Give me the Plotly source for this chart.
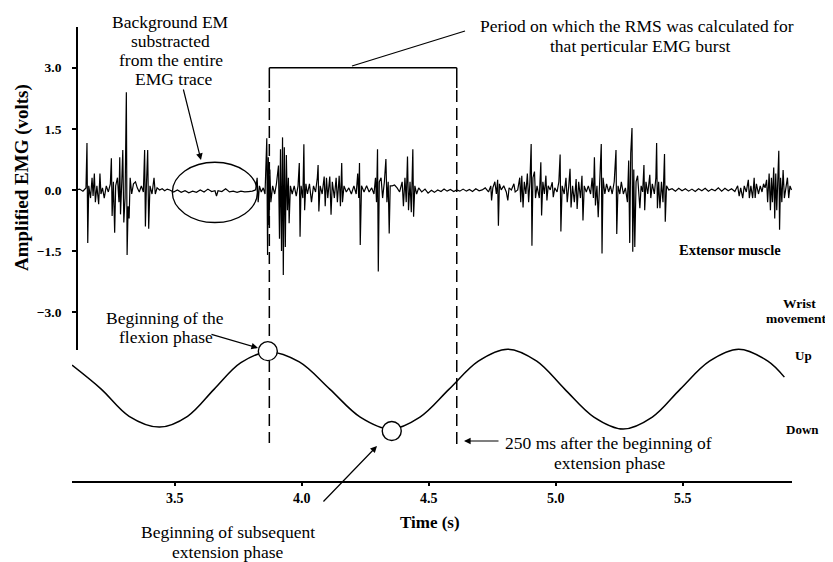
import plotly.graph_objects as go

# ---------------- data ----------------
# Amplified EMG trace of the extensor muscle (time in s, volts)
emg_time = [
    3.112, 3.125, 3.138, 3.150, 3.154, 3.157, 3.161, 3.168, 3.174, 3.178,
    3.183, 3.187, 3.193, 3.200, 3.205, 3.209, 3.215, 3.222, 3.230, 3.238,
    3.246, 3.250, 3.253, 3.258, 3.263, 3.267, 3.274, 3.280, 3.283, 3.286,
    3.291, 3.295, 3.299, 3.304, 3.309, 3.312, 3.316, 3.320, 3.324, 3.330,
    3.337, 3.345, 3.352, 3.360, 3.368, 3.376, 3.381, 3.384, 3.388, 3.393,
    3.397, 3.402, 3.410, 3.418, 3.423, 3.430, 3.440, 3.450, 3.460, 3.470,
    3.480, 3.495, 3.510, 3.525, 3.540, 3.555, 3.570, 3.585, 3.600, 3.615,
    3.630, 3.645, 3.658, 3.664, 3.670, 3.685, 3.700, 3.715, 3.730, 3.745,
    3.760, 3.775, 3.790, 3.805, 3.818, 3.824, 3.828, 3.833, 3.840, 3.848,
    3.855, 3.862, 3.865, 3.868, 3.871, 3.874, 3.878, 3.885, 3.893, 3.900,
    3.908, 3.912, 3.916, 3.920, 3.924, 3.927, 3.931, 3.935, 3.939, 3.943,
    3.947, 3.950, 3.955, 3.962, 3.970, 3.978, 3.985, 3.990, 3.993, 3.997,
    4.004, 4.008, 4.011, 4.016, 4.022, 4.030, 4.038, 4.046, 4.054, 4.061,
    4.064, 4.067, 4.072, 4.080, 4.088, 4.092, 4.097, 4.102, 4.110, 4.115,
    4.120, 4.128, 4.135, 4.140, 4.147, 4.152, 4.157, 4.160, 4.166, 4.175,
    4.185, 4.195, 4.205, 4.214, 4.220, 4.224, 4.227, 4.230, 4.235, 4.245,
    4.255, 4.265, 4.275, 4.284, 4.290, 4.294, 4.298, 4.301, 4.305, 4.312,
    4.318, 4.325, 4.331, 4.335, 4.340, 4.344, 4.348, 4.356, 4.365, 4.375,
    4.385, 4.395, 4.400, 4.406, 4.411, 4.416, 4.420, 4.426, 4.431, 4.437,
    4.440, 4.445, 4.452, 4.460,
    4.472, 4.485, 4.497, 4.510, 4.522, 4.535, 4.548, 4.560, 4.572, 4.585,
    4.598, 4.610, 4.622, 4.635, 4.648, 4.660, 4.672, 4.685, 4.698, 4.710,
    4.722, 4.735,
    4.744, 4.747, 4.752, 4.760, 4.766, 4.771, 4.774, 4.778, 4.785, 4.795,
    4.805, 4.811, 4.816, 4.825, 4.835, 4.840, 4.850, 4.858, 4.862, 4.866,
    4.871, 4.876, 4.882, 4.888, 4.893, 4.898, 4.903, 4.906, 4.910, 4.916,
    4.920, 4.926, 4.935, 4.941, 4.944, 4.949, 4.955, 4.961, 4.965, 4.970,
    4.978, 4.986, 4.990, 4.996, 5.005, 5.012, 5.017, 5.020, 5.025, 5.033,
    5.040, 5.045, 5.051, 5.056, 5.060, 5.066, 5.073, 5.080, 5.084, 5.090,
    5.097, 5.103, 5.107, 5.112, 5.120, 5.128, 5.137, 5.143, 5.148, 5.152,
    5.156, 5.162, 5.167, 5.172, 5.179, 5.182, 5.186, 5.193, 5.200, 5.208,
    5.215, 5.222, 5.230, 5.237, 5.240, 5.245, 5.252, 5.258, 5.266, 5.274,
    5.282, 5.287, 5.291, 5.295, 5.300, 5.303, 5.307, 5.311, 5.316, 5.322,
    5.327, 5.331, 5.336, 5.342, 5.347, 5.350, 5.355, 5.362, 5.370, 5.374,
    5.380, 5.388, 5.394, 5.397, 5.400, 5.405, 5.410, 5.416, 5.422, 5.428,
    5.431, 5.436, 5.445,
    5.458, 5.471, 5.484, 5.497, 5.510, 5.523, 5.536, 5.549, 5.562, 5.575,
    5.588, 5.601, 5.614, 5.627, 5.640, 5.653, 5.666, 5.679, 5.692, 5.705,
    5.716, 5.722, 5.728, 5.736, 5.742, 5.750, 5.758, 5.762, 5.768, 5.775,
    5.781, 5.785, 5.790, 5.798, 5.805, 5.812, 5.818, 5.824, 5.830, 5.834,
    5.840, 5.845, 5.849, 5.853, 5.858, 5.862, 5.866, 5.870, 5.875, 5.878,
    5.881, 5.885, 5.890, 5.895, 5.900, 5.906, 5.912, 5.917, 5.922, 5.928,
]
emg_volts = [
    0.0, 0.02, -0.03, 0.05, 1.15, -1.3, 0.1, -0.2, 0.3, -0.15,
    0.4, -0.3, 0.1, -0.35, 0.4, -0.1, 0.05, -0.2, 0.1, -0.05,
    0.15, 0.78, -0.64, 0.2, -1.05, 0.1, 0.3, -0.3, 0.8, -0.6,
    0.2, 0.98, -0.8, -0.2, 2.4, -1.6, -0.4, -0.7, 0.3, -0.1,
    0.15, 0.2, 0.05, -0.05, 0.1, -0.05, 0.98, -0.9, 0.1, 0.98,
    -0.95, 0.1, -0.1, 0.3, -0.1, 0.05, 0.0, 0.03, -0.02, 0.02,
    0.0, -0.05, 0.0, -0.06, -0.02, -0.07, -0.03, -0.06, 0.0, -0.05,
    0.02, -0.04, -0.02, -0.15, -0.02, -0.04, 0.03, -0.05, -0.03, -0.06,
    -0.03, -0.05, -0.04, -0.03, 0.0, 0.3, -0.3, 0.1, -0.05, 0.05,
    -0.1, 1.27, -1.6, 0.8, -0.86, 0.5, -0.3, 0.1, -0.1, 0.15,
    0.6, -1.2, 1.0, -1.5, 1.29, -2.09, 1.05, -1.4, 0.86, -0.5,
    0.3, -0.82, 0.1, -0.1, 0.1, -0.15, 0.1, 0.66, -1.15, 0.1,
    -0.2, 1.12, -0.5, 0.15, -0.1, 0.15, -0.3, 0.1, -0.05, 0.3,
    0.61, -0.53, 0.1, -0.1, 0.33, -0.4, 0.3, -0.2, 0.33, -0.61,
    0.2, -0.2, 0.3, -0.3, 0.35, -0.4, 0.66, -0.3, 0.1, -0.05,
    0.05, -0.1, 0.1, -0.1, 0.4, -0.2, 0.66, -1.35, 0.1, -0.05,
    0.1, -0.05, 0.05, -0.1, 0.3, -0.3, 1.0, -2.0, 0.2, 0.3,
    -0.2, 0.2, 0.76, -0.3, 0.2, -1.07, 0.1, 0.1, 0.12, 0.05,
    -0.05, 0.2, -0.4, 0.3, -0.3, 0.82, -0.5, 0.2, -0.55, 1.0,
    -0.66, 0.1, -0.1, 0.05,
    -0.05, 0.02, -0.08, -0.01, -0.06, 0.0, -0.04, 0.02, -0.03, 0.01,
    -0.04, 0.0, -0.03, 0.02, -0.03, 0.01, -0.04, 0.03, -0.02, 0.0,
    0.05, -0.05,
    0.1, -0.26, 0.05, 0.2, -0.1, 0.25, -0.88, 0.15, 0.0, 0.1,
    -0.05, -0.26, 0.05, 0.0, 0.15, -0.05, 0.0, 0.3, -0.3, 0.35,
    -0.43, 0.2, -0.1, 0.4, -0.3, 0.2, 1.13, -1.37, 0.3, 0.45,
    -0.2, 0.1, -0.2, 0.68, -0.63, 0.2, -0.1, 0.35, -0.26, 0.1,
    0.0, 0.19, -0.18, 0.05, -0.05, 0.2, 0.87, -1.02, 0.1, -0.1,
    0.3, -0.3, 0.1, 0.52, -0.43, 0.1, -0.3, 0.27, -0.47, 0.2,
    -0.2, 0.35, -0.75, 0.1, -0.05, 0.1, -0.1, 0.3, -0.2, 0.8,
    -0.38, 0.1, -0.67, 0.2, 1.13, -1.56, 0.3, -0.1, 0.15, -0.05,
    0.1, -0.1, 0.2, 0.98, -1.08, 0.1, -0.1, 0.2, -0.1, 0.05,
    -0.3, 0.72, -1.3, 0.9, 1.52, -1.52, 0.5, -1.4, 0.2, 0.35,
    -0.1, -0.45, 0.1, -0.05, 0.61, -0.5, 0.2, -0.1, 0.37, -0.2,
    0.15, -0.1, 0.3, 1.15, -0.45, 0.2, -0.45, 0.2, -0.3, 0.88,
    -0.78, 0.1, 0.0,
    0.03, -0.03, 0.04, -0.02, 0.03, -0.03, 0.02, -0.04, 0.03, -0.02,
    0.04, -0.03, 0.02, -0.02, 0.05, -0.03, 0.04, -0.02, 0.03, -0.04,
    0.1, -0.15, 0.05, -0.2, 0.1, -0.05, 0.25, -0.2, 0.1, -0.2,
    0.3, -0.2, 0.15, -0.1, 0.1, -0.05, 0.15, 0.05, 0.25, -0.3,
    0.4, -0.5, 0.3, -0.3, 0.55, -0.7, 0.4, -0.5, 0.7, 0.96,
    -0.98, 0.3, -0.3, 0.49, -0.2, 0.1, 0.3, -0.2, 0.1, 0.0,
]
assert len(emg_time) == len(emg_volts)

# Wrist movement (relative position, +1 = Up, -1 = Down)
wrist_time = [3.095, 3.21, 3.32, 3.44, 3.55, 3.655, 3.76, 3.87, 3.99, 4.11,
              4.23, 4.35, 4.465, 4.58, 4.695, 4.81, 4.925, 5.035, 5.15,
              5.265, 5.38, 5.49, 5.605, 5.72, 5.835, 5.90]
wrist_pos = [0.60, 0.0, -0.68, -0.95, -0.68, 0.0, 0.66, 0.93, 0.68, 0.0,
             -0.70, -1.0, -0.70, 0.0, 0.70, 1.0, 0.70, 0.0, -0.70,
             -1.0, -0.70, 0.0, 0.70, 1.0, 0.70, 0.30]

# Phase markers (beginning of flexion, beginning of subsequent extension)
phase_time = [3.866, 4.354]
phase_pos = [0.95, -1.05]

# RMS window
burst_start = 3.872
burst_end = 4.61
rms_level = 3.0

x_ticks = [3.5, 4.0, 4.5, 5.0, 5.5]
y_ticks = [-3.0, -1.5, 0.0, 1.5, 3.0]

# ---------------- layout geometry ----------------
# The page adds an 8 px body margin, so the figure is 8 px smaller and all
# positions below are given in reference-page pixels.
PAGE = 8
W, H = 833 - PAGE, 562 - PAGE
PL, PR, PT, PB = 72, 792, 27, 481          # plot area in page pixels
PW, PH = PR - PL, PB - PT
SERIF = "Liberation Serif, Times New Roman, serif"


def px(x):
    return (x - PL) / PW


def py(y):
    return (PB - y) / PH


fig = go.Figure()

fig.add_trace(go.Scatter(
    x=emg_time, y=emg_volts, mode="lines",
    line=dict(color="black", width=1.2), yaxis="y", showlegend=False))

fig.add_trace(go.Scatter(
    x=wrist_time, y=wrist_pos, mode="lines",
    line=dict(color="black", width=1.5, shape="spline", smoothing=1.0),
    yaxis="y2", showlegend=False))

fig.add_trace(go.Scatter(
    x=phase_time, y=phase_pos, mode="markers",
    marker=dict(symbol="circle", size=19, color="white",
                line=dict(color="black", width=1.4)),
    yaxis="y2", cliponaxis=False, showlegend=False))

shapes = [
    # RMS bracket
    dict(type="line", xref="x", yref="y", x0=burst_start, x1=burst_end,
         y0=rms_level, y1=rms_level, line=dict(color="black", width=1.5)),
    dict(type="line", xref="x", yref="y", x0=burst_start, x1=burst_start,
         y0=rms_level, y1=2.5, line=dict(color="black", width=1.5)),
    dict(type="line", xref="x", yref="y", x0=burst_end, x1=burst_end,
         y0=rms_level, y1=2.5, line=dict(color="black", width=1.5)),
    # dashed window limits (drawn below the traces so the circles cover them)
    dict(type="line", xref="x", yref="paper", x0=burst_start, x1=burst_start,
         y0=py(90), y1=py(443), layer="below",
         line=dict(color="black", width=1.5, dash="12px,6px")),
    dict(type="line", xref="x", yref="paper", x0=burst_end, x1=burst_end,
         y0=py(90), y1=py(447), layer="below",
         line=dict(color="black", width=1.5, dash="12px,6px")),
    # callout line to the RMS text
    dict(type="line", xref="paper", yref="paper", x0=px(352), y0=py(66),
         x1=px(465), y1=py(31), line=dict(color="black", width=1.3)),
    # ellipse around the background EMG
    dict(type="circle", xref="x", yref="y", x0=3.49, x1=3.825, y0=-0.8, y1=0.68,
         line=dict(color="black", width=1.3)),
]

annotations = []


def label(text, x, y, size=17.5, bold=False, xanchor="center"):
    if bold:
        text = "<b>" + text + "</b>"
    annotations.append(dict(
        text=text, x=px(x), y=py(y), xref="paper", yref="paper",
        showarrow=False, xanchor=xanchor, yanchor="middle",
        font=dict(size=size, family=SERIF, color="black")))


def arrow(tail, head):
    annotations.append(dict(
        text="", x=px(head[0]), y=py(head[1]), xref="paper", yref="paper",
        ax=tail[0] - head[0], ay=tail[1] - head[1], showarrow=True,
        arrowhead=2, arrowsize=1.1, arrowwidth=1.2, arrowcolor="black",
        standoff=0, startstandoff=0))


label("Background EM", 170, 22)
label("substracted", 170, 41)
label("from the entire", 171, 60)
label("EMG trace", 173, 79)
label("Period on which the RMS was calculated for", 637, 26)
label("that perticular EMG burst", 640, 46)
label("Extensor muscle", 730, 250, size=14.5, bold=True)
label("Wrist", 799, 303, size=13.5, bold=True)
label("movement", 796, 318, size=13.5, bold=True)
label("Up", 803, 355, size=13, bold=True)
label("Down", 802, 429, size=13, bold=True)
label("Beginning of the", 165, 318)
label("flexion phase", 166, 337)
label("Beginning of subsequent", 228, 532)
label("extension phase", 228, 552)
label("250 ms after the beginning of", 503, 443, xanchor="left")
label("extension phase", 610, 463)
label("Time (s)", 430, 522, size=17, bold=True)
annotations.append(dict(
    text="<b>Amplified EMG (volts)</b>", x=px(22), y=py(178),
    xref="paper", yref="paper", showarrow=False, textangle=-90,
    xanchor="center", yanchor="middle",
    font=dict(size=19, family=SERIF, color="black")))

arrow((183, 88), (201, 160))
arrow((210, 334), (258, 348))
arrow((322, 503), (377, 446))
arrow((500, 441), (464, 441))

fig.update_layout(
    width=W, height=H,
    margin=dict(l=PL - PAGE, r=833 - PR, t=PT - PAGE, b=562 - PB, autoexpand=False),
    paper_bgcolor="white", plot_bgcolor="rgba(0,0,0,0)",
    font=dict(family=SERIF, color="black"),
    showlegend=False,
    xaxis=dict(
        range=[3.095, 5.93], anchor="y2", showgrid=False, zeroline=False,
        showline=True, linecolor="black", linewidth=2,
        ticks="outside", ticklen=3, tickwidth=1.5, tickcolor="black",
        tickvals=x_ticks, tickformat=".1f", ticklabelstandoff=0,
        tickfont=dict(size=14, family=SERIF, color="black", weight="bold"),
    ),
    yaxis=dict(
        domain=[py(350), 1.0], range=[-3.93, 4.0], anchor="free",
        position=px(77), showgrid=False, zeroline=False,
        showline=True, linecolor="black", linewidth=1.8,
        ticks="outside", ticklen=4, tickwidth=1.5, tickcolor="black",
        tickvals=y_ticks, tickformat=".1f", ticklabelstandoff=8,
        tickfont=dict(size=13.5, family=SERIF, color="black", weight="bold"),
    ),
    yaxis2=dict(
        domain=[0.0, 0.33], range=[-2.3, 1.45], anchor="x",
        showgrid=False, zeroline=False, showline=False,
        showticklabels=False, ticks="",
    ),
    shapes=shapes,
    annotations=annotations,
)

fig.write_html("out.html")
